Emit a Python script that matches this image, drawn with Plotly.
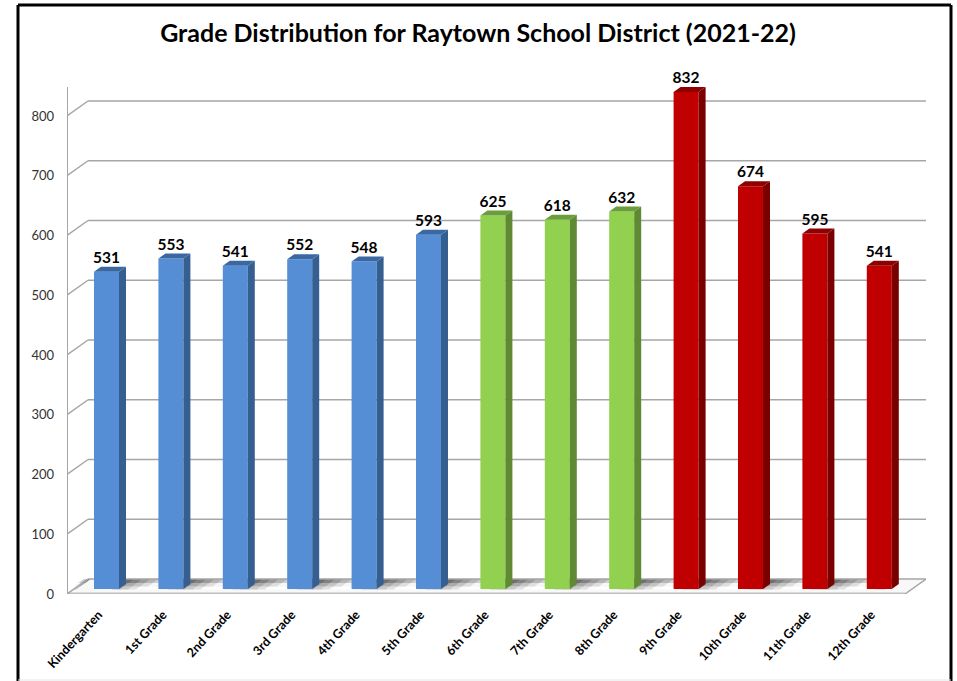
"""Grade distribution for Raytown School District, pseudo-3D Excel-style bars."""

import plotly.graph_objects as go

GRADES = ["Kindergarten", "1st Grade", "2nd Grade", "3rd Grade", "4th Grade", "5th Grade",
          "6th Grade", "7th Grade", "8th Grade", "9th Grade", "10th Grade", "11th Grade", "12th Grade"]
STUDENTS = [531, 553, 541, 552, 548, 593, 625, 618, 632, 832, 674, 595, 541]
Y_TICKS = [0, 100, 200, 300, 400, 500, 600, 700, 800]

FRONT = ["#558ed5"] * 6 + ["#92d050"] * 3 + ["#c00000"] * 4
SIDE = ["#365f91"] * 6 + ["#5f8a33"] * 3 + ["#7a0000"] * 4
TOP = ["#3a68a3"] * 6 + ["#6a9e3a"] * 3 + ["#8f0000"] * 4

W, H = 957, 681
L, R, T, B = 67, 926, 60, 594
WALL_TOP = 87          # pixel row where the left wall ends
PX_PER_X = 64.4        # pixels per category
PX_PER_Y = 0.5975      # pixels per student
X0 = 106.5             # pixel centre of the first bar
BAR_W = 25 / PX_PER_X
BAR_DX, BAR_DY = 7 / PX_PER_X, 5 / PX_PER_Y
WALL_DX, WALL_DY = 21 / PX_PER_X, 15 / PX_PER_Y
GRID = "#a6a6a6"

x_min = (L - X0) / PX_PER_X
x_max = (R - X0) / PX_PER_X
y_max = (B - T) / PX_PER_Y
wall_top = (B - WALL_TOP) / PX_PER_Y
xs = list(range(len(GRADES)))
front_right = x_max - WALL_DX


def line(x0, y0, x1, y1, width=1.5, color=GRID):
    return dict(type="line", xref="x", yref="y", x0=x0, y0=y0, x1=x1, y1=y1,
                layer="below", line=dict(color=color, width=width))


def poly(points, fill):
    path = "M " + " L ".join(f"{px},{py}" for px, py in points) + " Z"
    return dict(type="path", xref="x", yref="y", path=path, layer="below",
                fillcolor=fill, line=dict(width=0))


def frame_line(x0, y0, x1, y1, color="#000000", width=3):
    # pixel position on the page turned into paper coordinates
    return dict(type="line", xref="paper", yref="paper",
                x0=(x0 - L) / (R - L), x1=(x1 - L) / (R - L),
                y0=(B - y0) / (B - T), y1=(B - y1) / (B - T),
                line=dict(color=color, width=width))


def floor_band(a, b, levels, y0, y1):
    # one row of the floor shading between two bars, slanted with the floor
    step = (b - a) / len(levels)
    skew = WALL_DX / WALL_DY
    for n, level in enumerate(levels):
        left = a + n * step
        fill = f"rgb({level},{level},{level})"
        shapes.append(poly([(left + y0 * skew - WALL_DX, y0), (left + y1 * skew - WALL_DX, y1),
                            (left + step + 0.01 + y1 * skew - WALL_DX, y1),
                            (left + step + 0.01 + y0 * skew - WALL_DX, y0)], fill))


shapes = []

# floor
shapes.append(poly([(x_min, 0), (x_min + WALL_DX, WALL_DY), (x_max, WALL_DY), (front_right, 0)], "#f8f8f8"))
gap_levels = [150, 170, 195, 222, 247, 240, 205, 165]
rows = [(BAR_DY * 0.9, BAR_DY * 1.5, 30), (BAR_DY * 1.5, BAR_DY * 2.2, 0), (BAR_DY * 2.2, WALL_DY, -40)]
edges = [i + BAR_W / 2 + WALL_DX * 0.35 for i in xs]
for y0, y1, lift in rows:
    for a, b in zip(edges, edges[1:]):
        floor_band(a, b, [min(255, v + lift) for v in gap_levels], y0, y1)
    # first gap fades from the left wall towards the first bar
    floor_band(x_min + WALL_DX * 0.8, edges[0] - 1 + BAR_W + 0.05,
               [min(255, v + lift) for v in gap_levels[4:]], y0, y1)

# walls
for tick in Y_TICKS:
    if tick:
        shapes.append(line(x_min, tick, x_min + WALL_DX, tick + WALL_DY))
    shapes.append(line(x_min + WALL_DX, tick + WALL_DY, x_max, tick + WALL_DY))
shapes.append(line(x_min, 0, x_min, wall_top, width=2))
shapes.append(line(x_min, 0, front_right, 0, width=3, color="#bfbfbf"))
shapes.append(line(front_right, 0, x_max, WALL_DY))
shapes.append(line(x_min, 0, x_min + WALL_DX, WALL_DY))

# frame around the pasted picture
shapes.append(frame_line(18, 5, 951, 5))
shapes.append(frame_line(18, 5, 18, 681))
shapes.append(frame_line(951, 5, 951, 681))
shapes.append(frame_line(18, 680, 951, 680, color="#e6e6e6", width=1))

fig = go.Figure()

for i, value in enumerate(STUDENTS):
    right = i + BAR_W / 2
    left = i - BAR_W / 2
    top = value + BAR_DY
    # side face
    fig.add_trace(go.Scatter(
        x=[right, right + BAR_DX, right + BAR_DX, right],
        y=[BAR_DY, BAR_DY * 2, top + BAR_DY, top],
        mode="lines", fill="toself", fillcolor=SIDE[i], line=dict(width=0),
        showlegend=False, hoverinfo="skip",
    ))
    # top face
    fig.add_trace(go.Scatter(
        x=[left, left + BAR_DX, right + BAR_DX, right],
        y=[top, top + BAR_DY, top + BAR_DY, top],
        mode="lines", fill="toself", fillcolor=TOP[i], line=dict(width=0),
        showlegend=False, hoverinfo="skip",
    ))

fig.add_trace(go.Bar(
    x=xs, y=STUDENTS, base=BAR_DY, width=BAR_W,
    marker=dict(color=FRONT, line=dict(width=0)),
    showlegend=False,
))

fig.add_trace(go.Scatter(
    x=xs, y=[v + BAR_DY * 2 for v in STUDENTS],
    mode="text", text=[str(v) for v in STUDENTS], textposition="top center",
    textfont=dict(family="Lato", size=15.5, color="#000000", weight="bold"),
    showlegend=False, cliponaxis=False,
))

fig.update_layout(
    width=W, height=H,
    margin=dict(l=L, r=W - R, t=T, b=H - B, autoexpand=False),
    paper_bgcolor="#ffffff", plot_bgcolor="#ffffff",
    title=dict(text="<b>Grade Distribution for Raytown School District (2021-22)</b>",
               x=478 / W, xanchor="center", y=1 - 33 / H, yanchor="middle",
               font=dict(family="Lato", size=25, color="#000000")),
    shapes=shapes,
    xaxis=dict(range=[x_min, x_max], tickmode="array", tickvals=xs, ticktext=GRADES,
               tickangle=-47, showgrid=False, zeroline=False, showline=False, ticks="",
               ticklabelshift=-8, ticklabelstandoff=10,
               tickfont=dict(family="Lato", size=12.5, color="#000000", weight="bold")),
    yaxis=dict(range=[0, y_max], tickmode="array", tickvals=Y_TICKS, showgrid=False,
               zeroline=False, showline=False, ticks="", ticklabelstandoff=12,
               tickfont=dict(family="Lato", size=13, color="#333333")),
)

fig.write_html("out.html", post_script="document.body.style.margin='0';", config=dict(displayModeBar=False))
